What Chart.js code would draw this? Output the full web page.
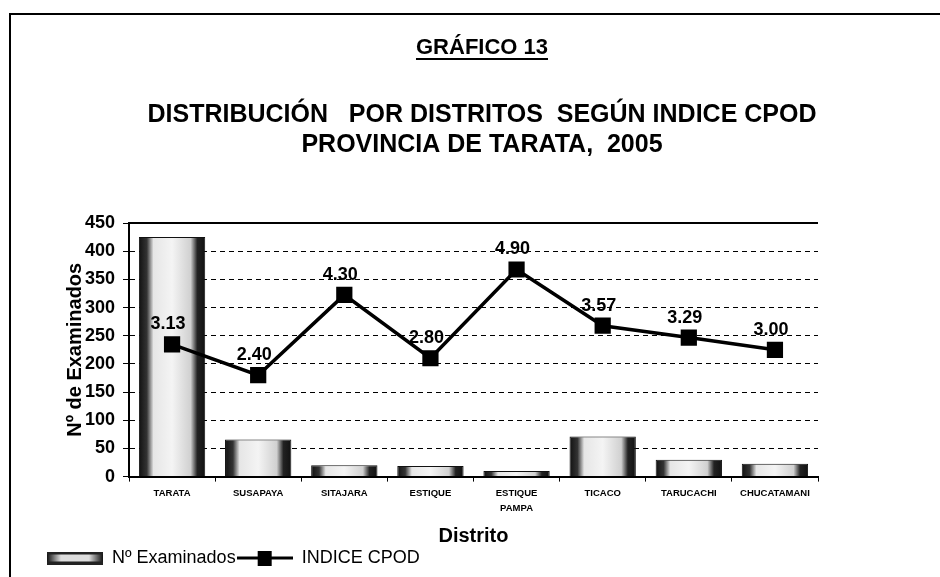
<!DOCTYPE html>
<html>
<head>
<meta charset="utf-8">
<script src="https://cdn.jsdelivr.net/npm/chart.js@4.4.0/dist/chart.umd.min.js"></script>
<style>
  html, body { margin: 0; padding: 0; background: #fff; }
  #wrap { width: 940px; height: 577px; position: relative; }
</style>
</head>
<body>
<div id="wrap"><canvas id="chart" width="940" height="577"></canvas></div>
<script>
const distritos = ['TARATA', 'SUSAPAYA', 'SITAJARA', 'ESTIQUE', ['ESTIQUE', 'PAMPA'], 'TICACO', 'TARUCACHI', 'CHUCATAMANI'];
const examinados = [425, 66, 20, 19, 10, 71, 30, 23];
const indiceCpod = [3.13, 2.40, 4.30, 2.80, 4.90, 3.57, 3.29, 3.00];
const yTicks = [0, 50, 100, 150, 200, 250, 300, 350, 400, 450];

const FONT = "'Liberation Sans', Arial, sans-serif";

// bar fill: dark edges, light middle (scanned 3D look)
function barFill(ctx) {
  const chart = ctx.chart;
  const x = chart.scales.x;
  if (!x || ctx.dataIndex === undefined) return '#ccc';
  const cx = x.getPixelForValue(ctx.dataIndex);
  const half = (x.width / distritos.length) * 0.77 / 2;
  const g = chart.ctx.createLinearGradient(cx - half, 0, cx + half, 0);
  g.addColorStop(0, '#111');
  g.addColorStop(0.12, '#333');
  g.addColorStop(0.22, '#e6e6e6');
  g.addColorStop(0.5, '#f4f4f4');
  g.addColorStop(0.78, '#d0d0d0');
  g.addColorStop(0.88, '#222');
  g.addColorStop(1, '#111');
  return g;
}

// legend symbols
function barSymbol() {
  const c = document.createElement('canvas');
  c.width = 56; c.height = 13;
  const g = c.getContext('2d');
  const gr = g.createLinearGradient(0, 0, 56, 0);
  gr.addColorStop(0, '#111'); gr.addColorStop(0.25, '#ddd');
  gr.addColorStop(0.75, '#ddd'); gr.addColorStop(1, '#111');
  g.fillStyle = gr; g.fillRect(0, 0, 56, 13);
  g.fillStyle = '#222'; g.fillRect(0, 0, 56, 3); g.fillRect(0, 10, 56, 3);
  return c;
}
function lineSymbol() {
  const c = document.createElement('canvas');
  c.width = 56; c.height = 15;
  const g = c.getContext('2d');
  g.fillStyle = '#000';
  g.fillRect(0, 6, 56, 3);
  g.fillRect(21, 0, 14, 15);
  return c;
}
const symBar = barSymbol();
const symLine = lineSymbol();

const extras = {
  id: 'extras',
  afterDraw(chart) {
    const ctx = chart.ctx;
    const a = chart.chartArea;
    ctx.save();
    ctx.strokeStyle = '#000';
    ctx.fillStyle = '#000';
    // solid top border of plot area
    ctx.lineWidth = 2;
    ctx.beginPath();
    ctx.moveTo(a.left, a.top); ctx.lineTo(a.right, a.top);
    ctx.stroke();
    // outer frame (top + left)
    ctx.beginPath();
    ctx.moveTo(940, 14); ctx.lineTo(10, 14); ctx.lineTo(10, 577);
    ctx.stroke();
    // underline of the title
    const t = chart.titleBlock;
    ctx.font = 'bold 22px ' + FONT;
    const w = ctx.measureText('GRÁFICO 13').width;
    const cx = (t.left + t.right) / 2;
    ctx.fillRect(cx - w / 2, 58, w, 2);
    // value labels of the CPOD line
    const meta = chart.getDatasetMeta(1);
    ctx.font = 'bold 18px ' + FONT;
    ctx.textAlign = 'center';
    ctx.textBaseline = 'middle';
    meta.data.forEach((p, i) => {
      ctx.fillText(indiceCpod[i].toFixed(2), p.x - 4, p.y - 20);
    });
    ctx.restore();
  }
};

new Chart(document.getElementById('chart'), {
  data: {
    labels: distritos,
    datasets: [
      {
        type: 'bar',
        label: 'Nº Examinados',
        data: examinados,
        backgroundColor: barFill,
        borderColor: '#111',
        borderWidth: 1,
        categoryPercentage: 1,
        barPercentage: 0.77,
        yAxisID: 'y',
        order: 2
      },
      {
        type: 'line',
        label: 'INDICE CPOD',
        data: indiceCpod,
        borderColor: '#000',
        borderWidth: 3.5,
        backgroundColor: '#000',
        pointStyle: 'rect',
        pointRadius: 9,
        pointHoverRadius: 9,
        yAxisID: 'y1',
        order: 1
      }
    ]
  },
  options: {
    responsive: false,
    animation: false,
    layout: { padding: { left: 46, right: 22, top: 0, bottom: 0 } },
    plugins: {
      tooltip: { enabled: false },
      title: {
        display: true,
        text: 'GRÁFICO 13',
        color: '#000',
        font: { family: FONT, size: 22, weight: 'bold', lineHeight: 1.2 },
        padding: { top: 35, bottom: 38.6 }
      },
      subtitle: {
        display: true,
        text: ['DISTRIBUCIÓN   POR DISTRITOS  SEGÚN INDICE CPOD', 'PROVINCIA DE TARATA,  2005'],
        color: '#000',
        font: { family: FONT, size: 25, weight: 'bold', lineHeight: 1.2 },
        padding: { top: 0, bottom: 63 }
      },
      legend: {
        position: 'bottom',
        align: 'start',
        labels: {
          color: '#000',
          font: { family: FONT, size: 18 },
          usePointStyle: true,
          pointStyleWidth: 56,
          boxHeight: 15,
          padding: 1,
          generateLabels() {
            return [
              { text: 'Nº Examinados', pointStyle: symBar, fillStyle: '#ccc', strokeStyle: '#000', lineWidth: 0, datasetIndex: 0 },
              { text: 'INDICE CPOD', pointStyle: symLine, fillStyle: '#000', strokeStyle: '#000', lineWidth: 0, datasetIndex: 1 }
            ];
          }
        }
      }
    },
    scales: {
      x: {
        grid: { display: true, drawOnChartArea: false, color: '#000', tickLength: 5, offset: true },
        border: { color: '#000', width: 2 },
        ticks: {
          color: '#000',
          font: { family: FONT, size: 9.5, weight: 'bold', lineHeight: 1.6 },
          maxRotation: 0,
          autoSkip: false,
          padding: 4
        },
        title: {
          display: true,
          text: 'Distrito',
          color: '#000',
          font: { family: FONT, size: 20, weight: 'bold' },
          padding: { top: 4, bottom: 0 }
        }
      },
      y: {
        min: 0,
        max: 450,
        afterBuildTicks(s) { s.ticks = yTicks.map(v => ({ value: v })); },
        afterFit(s) { s.width = 83; },
        grid: { color: '#000', lineWidth: 1, tickLength: 6, drawTicks: true },
        border: { color: '#000', width: 2, dash: [5, 4] },
        ticks: {
          color: '#000',
          font: { family: FONT, size: 18, weight: 'bold' },
          padding: 8
        },
        title: {
          display: true,
          text: 'Nº de Examinados',
          color: '#000',
          font: { family: FONT, size: 20, weight: 'bold', lineHeight: 1.2 },
          padding: { top: 17, bottom: 0 }
        }
      },
      y1: {
        position: 'right',
        min: 0,
        max: 6,
        grid: { display: false },
        border: { display: false },
        ticks: { display: false },
        afterFit(s) { s.width = 100; }
      }
    }
  },
  plugins: [extras]
});
</script>
</body>
</html>
